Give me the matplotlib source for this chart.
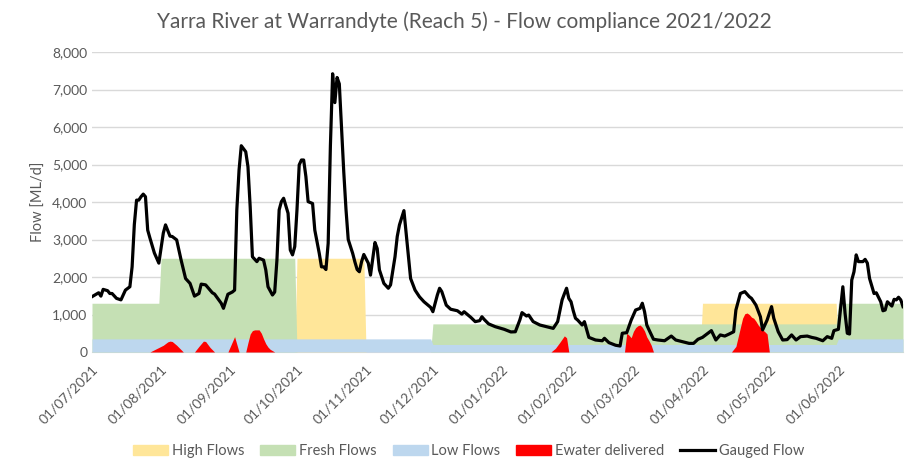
import matplotlib
matplotlib.use('Agg')
import matplotlib.pyplot as plt
import matplotlib.dates as mdates
import matplotlib.ticker as mticker
from matplotlib.patches import Patch
from matplotlib.lines import Line2D
import pandas as pd

plt.rcParams['font.family'] = ['Lato', 'DejaVu Sans']

### data (day offsets from 01/07/2021, flows in ML/d)
start = pd.Timestamp('2021-07-01')
days = pd.date_range('2021-07-01', '2022-06-30')

gauged_day = [0, 3, 4, 5, 7, 8, 9, 11, 13, 15, 17, 18, 19, 20, 21, 22, 23, 24, 25, 26, 28, 30,
              32, 33, 35, 36, 38, 40, 42, 44, 46, 48, 49, 51, 54, 55, 58, 59, 61, 63, 64, 65,
              66, 67, 69, 70, 71, 72, 74, 75, 77, 78, 79, 81, 82, 83, 84, 85, 86, 88, 89, 90,
              91, 92, 93, 94, 95, 96, 97, 99, 100, 102, 103, 104, 105, 106, 107, 108, 109, 110,
              111, 112, 113, 114, 115, 117, 118, 119, 120, 121, 122, 124, 125, 127, 128, 129,
              131, 133, 134, 136, 137, 138, 140, 141, 142, 143, 145, 147, 149, 152, 153, 155,
              156, 157, 159, 161, 164, 166, 167, 170, 172, 174, 175, 176, 178, 181, 185, 188,
              190, 192, 193, 195, 196, 198, 201, 204, 207, 209, 211, 212, 213, 214, 215, 216,
              217, 218, 220, 221, 223, 226, 229, 230, 232, 235, 237, 238, 240, 242, 244, 246,
              247, 248, 249, 250, 252, 254, 257, 260, 262, 265, 268, 270, 272, 274, 276, 278,
              280, 282, 284, 286, 288, 289, 291, 293, 295, 296, 298, 300, 301, 303, 305, 306,
              308, 310, 312, 314, 316, 318, 321, 323, 325, 328, 330, 332, 333, 335, 337, 338,
              339, 340, 341, 342, 343, 344, 346, 347, 348, 349, 351, 352, 354, 355, 356, 357,
              359, 360, 361, 362, 363, 364]
gauged_flow = [1475, 1580, 1490, 1670, 1635, 1560, 1560, 1430, 1390, 1650, 1740, 2270, 3400, 4050,
               4050, 4140, 4210, 4140, 3250, 3040, 2640, 2370, 3170, 3390, 3090, 3080, 2990, 2450,
               1960, 1830, 1490, 1560, 1810, 1790, 1580, 1545, 1300, 1165, 1540, 1600, 1650, 3790,
               4850, 5500, 5340, 4940, 3870, 2540, 2410, 2500, 2450, 2190, 1740, 1520, 1600, 2450,
               3790, 4010, 4100, 3700, 2720, 2590, 2810, 3790, 4990, 5120, 5120, 4680, 4010, 3960,
               3250, 2630, 2270, 2270, 2200, 2900, 5500, 7420, 6650, 7320, 7150, 6000, 4800, 3800,
               3000, 2630, 2400, 2200, 2140, 2410, 2600, 2370, 2050, 2920, 2760, 2190, 1830, 1700,
               1790, 2540, 3080, 3390, 3770, 3160, 2540, 1960, 1650, 1470, 1340, 1190, 1075, 1520,
               1700, 1610, 1250, 1140, 1100, 1010, 1075, 925, 810, 835, 940, 870, 750, 675, 605,
               535, 540, 850, 1050, 960, 985, 810, 720, 675, 630, 810, 1390, 1550, 1700, 1430,
               1340, 1100, 900, 850, 720, 810, 390, 320, 300, 365, 250, 180, 160, 500, 515, 850,
               1120, 1165, 1300, 1075, 720, 590, 340, 320, 300, 425, 320, 275, 230, 230, 340, 390,
               480, 570, 320, 455, 425, 480, 540, 1120, 1560, 1610, 1475, 1430, 1250, 940, 590,
               850, 1210, 900, 540, 320, 330, 455, 320, 410, 425, 390, 365, 300, 410, 365, 570,
               605, 1740, 1030, 500, 480, 1920, 2140, 2590, 2410, 2410, 2470, 2370, 1960, 1560,
               1580, 1340, 1100, 1120, 1340, 1225, 1405, 1390, 1460, 1390, 1210]

ewater_day = [26, 28, 30, 32, 34, 35, 36, 38, 40, 41,
              46, 48, 50, 51, 53, 55,
              61, 64, 66,
              69, 70, 71, 72, 73, 75, 76, 77, 78, 79, 80, 82,
              206, 208, 210, 212, 213, 214,
              239, 240, 241, 242, 243, 244, 245, 246, 247, 248, 249, 250, 251, 252,
              287, 289, 290, 291, 292, 293, 294, 295, 296, 297, 298, 299, 300, 301, 302, 303, 304]
ewater_flow = [0, 60, 120, 180, 270, 290, 280, 180, 60, 0,
               0, 150, 290, 280, 120, 0,
               0, 410, 0,
               0, 250, 480, 570, 590, 590, 500, 350, 220, 130, 70, 0,
               0, 100, 260, 430, 380, 0,
               0, 500, 450, 380, 550, 650, 700, 720, 660, 560, 400, 300, 180, 0,
               0, 150, 400, 650, 900, 1020, 1040, 1000, 930, 900, 820, 720, 650, 590, 540, 480, 0]

low_periods = [('2021-07-01', '2021-11-30', 350),
               ('2021-12-01', '2022-05-31', 200),
               ('2022-06-01', '2022-06-30', 350)]
fresh_periods = [('2021-07-01', '2021-07-31', 1300),
                 ('2021-08-01', '2021-09-30', 2500),
                 ('2021-12-01', '2022-05-31', 750),
                 ('2022-06-01', '2022-06-30', 1300)]
high_periods = [('2021-10-01', '2021-10-31', 2500),
                ('2022-04-01', '2022-05-31', 1300)]


def daily(periods):
    s = pd.Series(0.0, index=days)
    for a, b, v in periods:
        s[a:b] = v
    return s


high = daily(high_periods)
fresh = daily(fresh_periods)
low = daily(low_periods)
gauged_x = start + pd.to_timedelta(gauged_day, unit='D')
ewater_x = start + pd.to_timedelta(ewater_day, unit='D')

c_high, c_fresh, c_low, c_ew = '#FFE699', '#C5E0B4', '#BDD7EE', '#FF0000'
grey = '#595959'

fig = plt.figure(figsize=(9.1, 4.62), dpi=100)
ax = fig.add_axes([92 / 910, 110 / 462, 811 / 910, 300 / 462])

ax.fill_between(days, 0, high, color=c_high, lw=0, zorder=2)
ax.fill_between(days, 0, fresh, color=c_fresh, lw=0, zorder=3)
ax.fill_between(days, 0, low, color=c_low, lw=0, zorder=4)
ax.fill_between(ewater_x, 0, ewater_flow, color=c_ew, lw=0, zorder=5)
ax.plot(gauged_x, gauged_flow, color='black', lw=2.3, zorder=6)

ax.set_ylim(0, 8000)
ax.set_xlim(days[0], days[-1])
ax.yaxis.set_major_locator(mticker.MultipleLocator(1000))
ax.yaxis.set_major_formatter(mticker.FuncFormatter(lambda v, p: f'{v:,.0f}'))
ax.grid(axis='y', color='#D9D9D9', lw=1, zorder=0)
ax.set_axisbelow(True)
for s in ['top', 'right', 'left']:
    ax.spines[s].set_visible(False)
ax.spines['bottom'].set_color('#D9D9D9')
ax.spines['bottom'].set_zorder(1)

ticks = pd.date_range('2021-07-01', '2022-06-01', freq='MS')
ax.set_xticks(ticks)
ax.xaxis.set_major_formatter(mdates.DateFormatter('%d/%m/%Y'))
plt.setp(ax.get_xticklabels(), rotation=45, ha='right', rotation_mode='anchor')
ax.tick_params(axis='both', length=0, colors=grey, labelsize=10)
ax.tick_params(axis='x', pad=8)
ax.set_ylabel('Flow [ML/d]', color=grey, fontsize=10.5)

fig.suptitle('Yarra River at Warrandyte (Reach 5) - Flow compliance 2021/2022',
             x=0.51, y=0.975, fontsize=15, color=grey)

handles = [Patch(color=c_high), Patch(color=c_fresh), Patch(color=c_low), Patch(color=c_ew),
           Line2D([], [], color='black', lw=2.3)]
labels = ['High Flows', 'Fresh Flows', 'Low Flows', 'Ewater delivered', 'Gauged Flow']
leg = fig.legend(handles, labels, loc='lower center', bbox_to_anchor=(0.515, -0.02), ncol=5,
                 frameon=False, fontsize=10.5, handlelength=2.4, handleheight=0.7,
                 columnspacing=1.1, handletextpad=0.25)
for t in leg.get_texts():
    t.set_color(grey)

fig.savefig('out.png', dpi=100)
